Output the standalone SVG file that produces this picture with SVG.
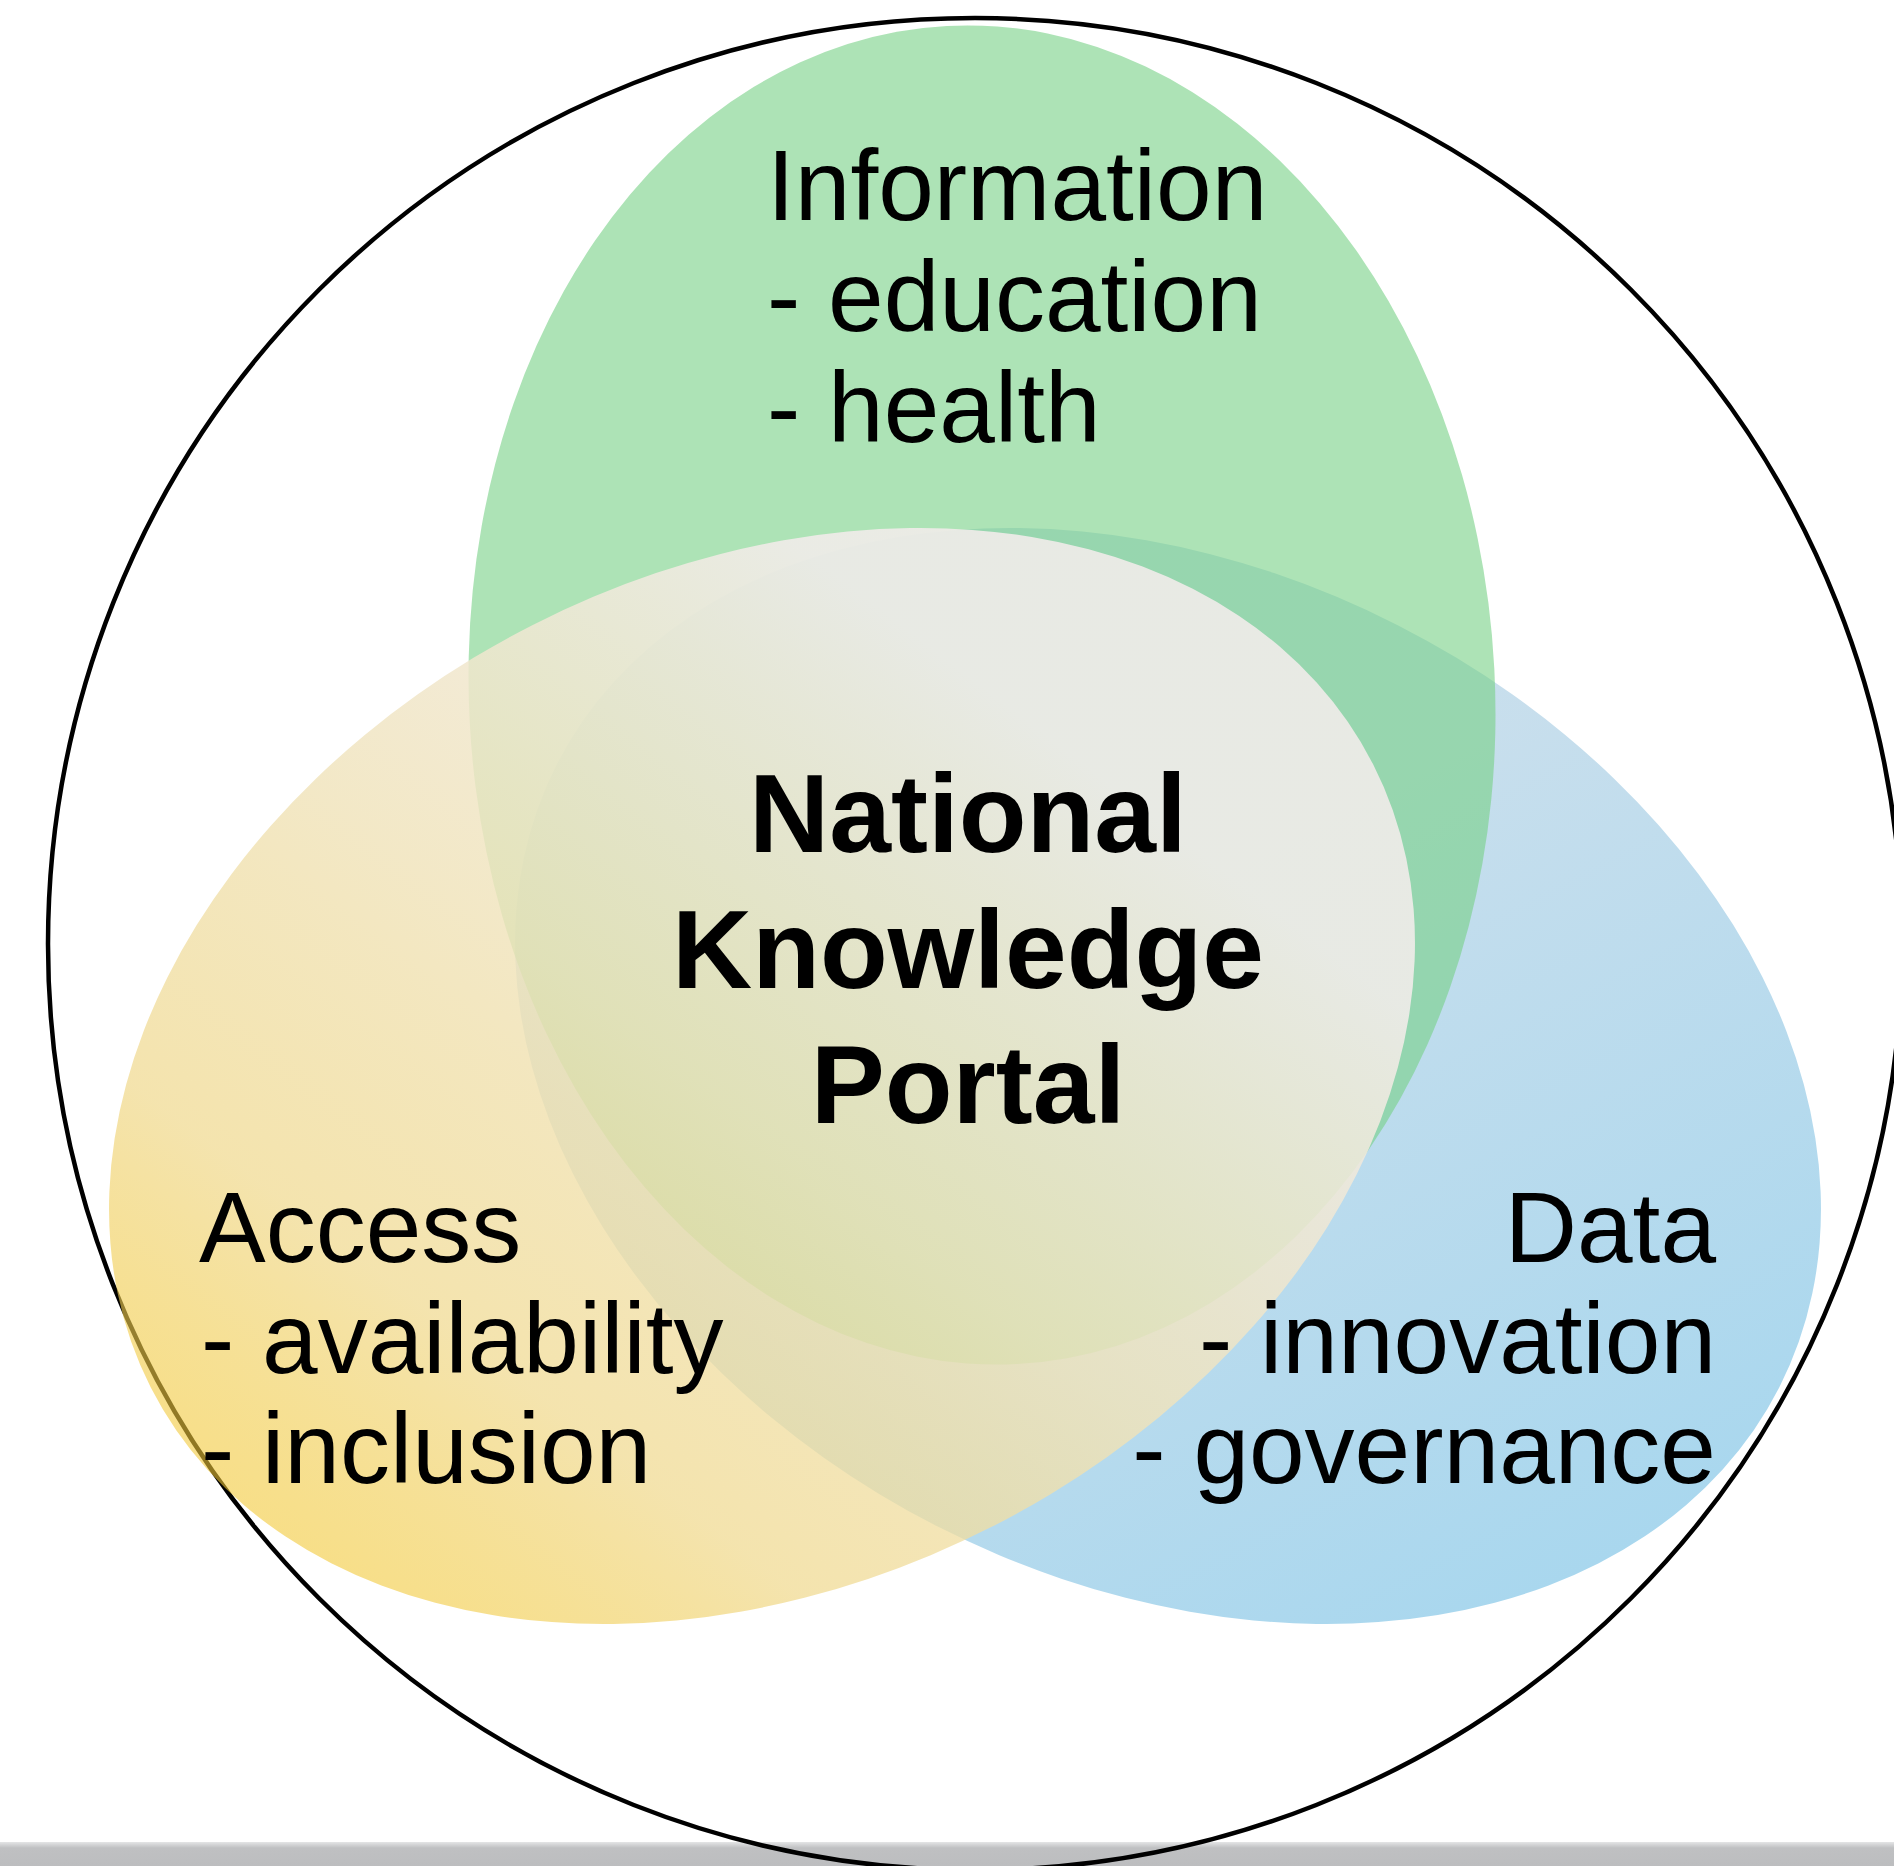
<svg xmlns="http://www.w3.org/2000/svg" width="1894" height="1866" viewBox="0 0 1894 1866">
  <defs>
    <linearGradient id="gYellow" gradientUnits="userSpaceOnUse" x1="130" y1="1300" x2="1380" y2="700">
      <stop offset="0" stop-color="#f2c730" stop-opacity="0.58"/>
      <stop offset="0.2" stop-color="#f0d98e" stop-opacity="0.72"/>
      <stop offset="0.45" stop-color="#f0e3ba" stop-opacity="0.82"/>
      <stop offset="0.8" stop-color="#f1ecea" stop-opacity="0.9"/>
      <stop offset="1" stop-color="#f1ecea" stop-opacity="0.9"/>
    </linearGradient>
    <linearGradient id="gBlue" gradientUnits="userSpaceOnUse" x1="1800" y1="1400" x2="1100" y2="900">
      <stop offset="0" stop-color="#80c5e7" stop-opacity="0.7"/>
      <stop offset="1" stop-color="#adcfe4" stop-opacity="0.68"/>
    </linearGradient>
    <linearGradient id="gBar" x1="0" y1="0" x2="0" y2="1">
      <stop offset="0" stop-color="#e4e5e6"/>
      <stop offset="0.25" stop-color="#bfc0c2"/>
      <stop offset="1" stop-color="#bcbdbf"/>
    </linearGradient>
    <style>
      .lbl { font-family: "Liberation Sans", Arial, Helvetica, sans-serif; font-size: 100px; fill: #000; }
      .title { font-family: "Liberation Sans", Arial, Helvetica, sans-serif; font-size: 111px; font-weight: bold; fill: #000; text-anchor: middle; }
      .end { text-anchor: end; }
    </style>
  </defs>
  <rect x="0" y="0" width="1894" height="1866" fill="#ffffff"/>
  <rect x="0" y="1842" width="1894" height="24" fill="url(#gBar)"/>

  <g id="portal-boundary">
    <ellipse cx="975" cy="944" rx="927" ry="926" fill="none" stroke="#000" stroke-width="4.5"/>
  </g>

  <g id="data">
    <ellipse cx="1168" cy="1076" rx="686" ry="506" transform="rotate(27 1168 1076)" fill="url(#gBlue)"/>
  </g>

  <g id="information">
    <ellipse cx="982" cy="695" rx="513" ry="670" transform="rotate(-3 982 695)" fill="#76d085" fill-opacity="0.6"/>
  </g>

  <g id="access">
    <ellipse cx="762" cy="1076" rx="686" ry="506" transform="rotate(-27 762 1076)" fill="url(#gYellow)"/>
  </g>

  <g id="information-label">
    <text class="lbl" x="767" y="220">Information</text>
    <text class="lbl" x="767" y="331">- education</text>
    <text class="lbl" x="767" y="442">- health</text>
  </g>

  <g id="access-label">
    <text class="lbl" x="199" y="1262">Access</text>
    <text class="lbl" x="201" y="1373">- availability</text>
    <text class="lbl" x="201" y="1483">- inclusion</text>
  </g>

  <g id="data-label">
    <text class="lbl end" x="1716" y="1262">Data</text>
    <text class="lbl end" x="1716" y="1373">- innovation</text>
    <text class="lbl end" x="1716" y="1483">- governance</text>
  </g>

  <g id="national-knowledge-portal">
    <text class="title" x="968" y="852">National</text>
    <text class="title" x="968" y="988">Knowledge</text>
    <text class="title" x="968" y="1123">Portal</text>
  </g>
</svg>
